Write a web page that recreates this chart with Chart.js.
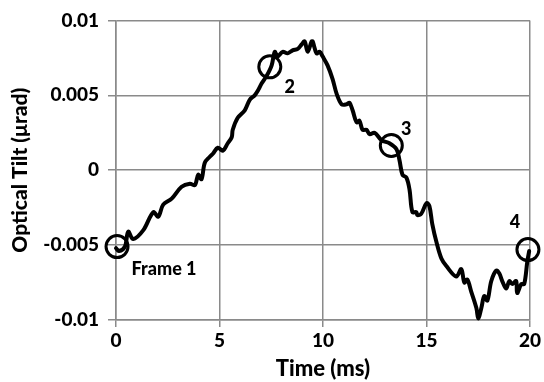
<!DOCTYPE html>
<html>
<head>
<meta charset="utf-8">
<script src="https://cdn.jsdelivr.net/npm/chart.js@4/dist/chart.umd.min.js"></script>
<style>
  html, body { margin: 0; padding: 0; background: #fff; }
  #wrap { width: 544px; height: 382px; }
</style>
</head>
<body>
<div id="wrap"><canvas id="tilt"></canvas></div>
<script>
// time (ms) and optical tilt (urad)
const timeMs = [0, 0.14, 0.43, 0.59, 0.83, 1.32, 1.80, 2.04, 2.28, 2.69, 3.17, 3.57, 3.81, 3.97, 4.13,
  4.29, 4.53, 4.68, 4.92, 5.16, 5.40, 5.59, 5.64, 5.88, 6.22, 6.46, 6.70, 6.85, 7.04, 7.28, 7.52,
  7.67, 7.81, 8.05, 8.29, 8.53, 8.78, 8.97, 9.11, 9.26, 9.45, 9.50, 9.69, 9.84, 9.98, 10.22, 10.46,
  10.66, 10.90, 11.14, 11.28, 11.43, 11.62, 11.76, 11.91, 12.10, 12.25, 12.49, 12.83, 13.21, 13.55,
  13.69, 13.84, 14.03, 14.18, 14.32, 14.51, 14.56, 14.75, 15.00, 15.14, 15.28, 15.48, 15.72, 15.96,
  16.44, 16.68, 16.83, 16.97, 17.16, 17.41, 17.50, 17.65, 17.79, 17.94, 18.13, 18.37, 18.52, 18.66,
  18.85, 19.00, 19.14, 19.33, 19.38, 19.58, 19.72, 19.87, 19.96];
const tilt = [-0.0052, -0.0054, -0.0051, -0.0041, -0.0046, -0.0040, -0.0028, -0.0031, -0.0023, -0.0019,
  -0.0011, -0.0009, -0.0010, -0.0003, -0.0006, 0.0005, 0.0009, 0.0011, 0.0015, 0.0013, 0.0018, 0.0022,
  0.0027, 0.0035, 0.0040, 0.0047, 0.0050, 0.0053, 0.0058, 0.0063, 0.0070, 0.0079, 0.0076, 0.0079,
  0.0078, 0.0080, 0.0081, 0.0084, 0.0086, 0.0079, 0.0086, 0.0086, 0.0078, 0.0079, 0.0076, 0.0070,
  0.0061, 0.0051, 0.0044, 0.0044, 0.0045, 0.0040, 0.0032, 0.0033, 0.0027, 0.0027, 0.0024, 0.0025,
  0.0020, 0.0018, 0.0014, 0.0007, -0.0003, -0.0005, -0.0013, -0.0028, -0.0028, -0.0030, -0.0029,
  -0.0022, -0.0024, -0.0036, -0.0048, -0.0059, -0.0064, -0.0071, -0.0066, -0.0075, -0.0073, -0.0081,
  -0.0092, -0.0099, -0.0092, -0.0084, -0.0087, -0.0074, -0.0067, -0.0069, -0.0074, -0.0079, -0.0074,
  -0.0076, -0.0074, -0.0082, -0.0076, -0.0076, -0.0061, -0.0054];

// circled frames
const frameT = [0.05, 7.43, 13.3, 19.9];
const frameV = [-0.0051, 0.0069, 0.00165, -0.0053];
const frameLabels = ['Frame 1', '2', '3', '4'];

const xTicks = [0, 5, 10, 15, 20];
const yTicks = [-0.01, -0.005, 0, 0.005, 0.01];

const FONT = "Lato, 'Liberation Sans', sans-serif";
const WEIGHT = '900';
const gridGrey = '#8a8a8a';

// where each frame label sits relative to its circle
const labelShift = [[47, 23], [20, 20], [15, -16], [-13, -27]];

const frameText = {
  id: 'frameText',
  afterDatasetsDraw(chart) {
    const c = chart.ctx;
    const xs = chart.scales.x, ys = chart.scales.y;
    c.save();
    c.fillStyle = '#000';
    c.font = WEIGHT + ' 18px ' + FONT;
    c.textAlign = 'center';
    c.textBaseline = 'middle';
    frameLabels.forEach((txt, i) => {
      const px = xs.getPixelForValue(frameT[i]) + labelShift[i][0];
      const py = ys.getPixelForValue(frameV[i]) + labelShift[i][1];
      c.fillText(txt, px, py);
    });
    c.restore();
  }
};

new Chart(document.getElementById('tilt').getContext('2d'), {
  type: 'scatter',
  data: {
    datasets: [{
      data: timeMs.map((t, i) => ({ x: t, y: tilt[i] })),
      showLine: true,
      borderColor: '#000',
      borderWidth: 4,
      pointRadius: 0,
      tension: 0.35,
      borderCapStyle: 'round',
      borderJoinStyle: 'round',
      clip: false
    }, {
      data: frameT.map((t, i) => ({ x: t, y: frameV[i] })),
      showLine: false,
      pointStyle: 'circle',
      pointRadius: 11,
      pointBorderWidth: 3,
      pointBorderColor: '#000',
      pointBackgroundColor: 'rgba(0,0,0,0)',
      clip: false
    }]
  },
  options: {
    responsive: true,
    maintainAspectRatio: false,
    animation: false,
    layout: { padding: { top: 17, right: 13, left: 0, bottom: 0 } },
    plugins: { legend: { display: false }, tooltip: { enabled: false } },
    scales: {
      x: {
        type: 'linear',
        min: 0, max: 20,
        afterBuildTicks: s => { s.ticks = xTicks.map(v => ({ value: v })); },
        afterFit: s => { s.height = 62; },
        grid: { color: gridGrey, lineWidth: 1.5, tickLength: 7 },
        border: { color: gridGrey, width: 1.5 },
        ticks: { color: '#000', font: { family: FONT, size: 19, weight: WEIGHT }, padding: 2 },
        title: { display: true, text: 'Time (ms)', color: '#000',
          font: { family: FONT, size: 22, weight: WEIGHT }, padding: { top: 0, bottom: 0 } }
      },
      y: {
        type: 'linear',
        min: -0.01, max: 0.01,
        afterBuildTicks: s => { s.ticks = yTicks.map(v => ({ value: v })); },
        afterFit: s => { s.width = 116; },
        grid: { color: gridGrey, lineWidth: 1.5, tickLength: 8 },
        border: { color: gridGrey, width: 1.5 },
        ticks: { color: '#000', font: { family: FONT, size: 19, weight: WEIGHT }, padding: 9,
          callback: v => String(Math.round(v * 1000) / 1000) },
        title: { display: true, text: 'Optical Tilt (\u03bcrad)', color: '#000',
          font: { family: FONT, size: 21, weight: WEIGHT }, padding: { top: 8, bottom: 0 } }
      }
    }
  },
  plugins: [frameText]
});
</script>
</body>
</html>
